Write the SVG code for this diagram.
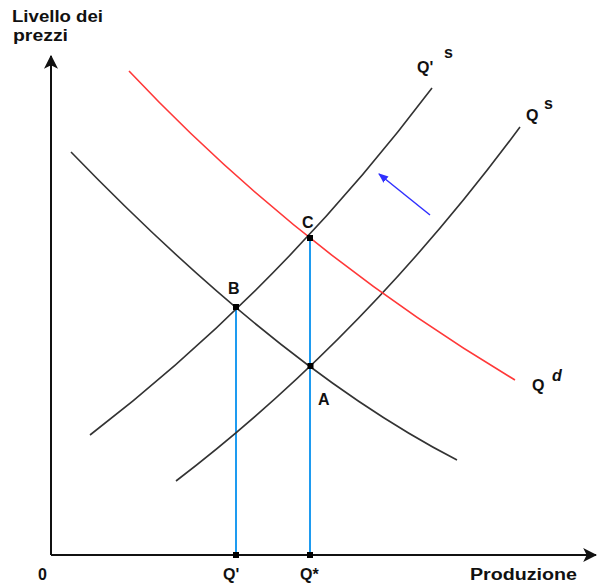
<svg xmlns="http://www.w3.org/2000/svg" width="598" height="583" viewBox="0 0 598 583">
<defs>
<style>
.t{font-family:"Liberation Sans",Arial,sans-serif;font-weight:bold;font-size:16px;fill:#111}
.sup{font-family:"Liberation Sans",Arial,sans-serif;font-weight:bold;font-size:16px;fill:#111}
.curve{fill:none;stroke:#333;stroke-width:1.6}
.red{fill:none;stroke:#ff3838;stroke-width:1.6}
.vl{fill:none;stroke:#1e9bf0;stroke-width:2}
.axis{fill:none;stroke:#111;stroke-width:2}
.dot{fill:#000}
</style>
<marker id="axh" viewBox="0 0 12 12" refX="11" refY="6" markerWidth="14" markerHeight="14" markerUnits="userSpaceOnUse" orient="auto"><path d="M0,0 L12,6 L0,12 L3,6 z" fill="#111"/></marker>
<marker id="bh" viewBox="0 0 10 10" refX="9" refY="5" markerWidth="10" markerHeight="10" markerUnits="userSpaceOnUse" orient="auto"><path d="M0,1 L10,5 L0,9 z" fill="#3030ff"/></marker>
</defs>
<g id="connectors">
<path class="axis" d="M51,555 L51,56" marker-end="url(#axh)"/>
<path class="axis" d="M51,555 L596,555" marker-end="url(#axh)"/>
<path class="vl" d="M236,307 L236,555"/>
<path class="vl" d="M310,238 L310,555"/>
<path class="curve" id="demand" d="M71,152 Q282,370 457,460"/>
<path class="curve" id="supply2" d="M90,435 Q281,288 432,88"/>
<path class="curve" id="supply" d="M176,481 Q365,336.5 520,127"/>
<path class="red" id="qd" d="M129,71 Q298,250.5 515,380"/>
<path d="M430,215 L379,174" stroke="#3030ff" stroke-width="1.5" fill="none" marker-end="url(#bh)"/>
</g>
<g id="points">
<rect class="dot" x="233" y="304" width="6" height="6"/>
<rect class="dot" x="307" y="235" width="6" height="6"/>
<rect class="dot" x="307.5" y="363" width="6" height="6"/>
<rect class="dot" x="233" y="552" width="6" height="6"/>
<rect class="dot" x="307" y="552" width="6" height="6"/>
</g>
<g id="labels">
<text class="t" x="12" y="22" textLength="91" lengthAdjust="spacingAndGlyphs">Livello dei</text>
<text class="t" x="13" y="41" textLength="55" lengthAdjust="spacingAndGlyphs">prezzi</text>
<text class="t" x="38" y="580">0</text>
<text class="t" x="223" y="580">Q'</text>
<text class="t" x="300" y="580">Q*</text>
<text class="t" x="470" y="580" textLength="107" lengthAdjust="spacingAndGlyphs">Produzione</text>
<text class="t" x="417" y="73">Q'</text>
<text class="sup" x="444" y="58">s</text>
<text class="t" x="526" y="121">Q</text>
<text class="sup" x="544" y="109">s</text>
<text class="t" x="532" y="391">Q</text>
<text class="sup" x="552" y="381" font-style="italic">d</text>
<text class="t" x="302" y="228">C</text>
<text class="t" x="228" y="294">B</text>
<text class="t" x="318" y="405">A</text>
</g>
</svg>
